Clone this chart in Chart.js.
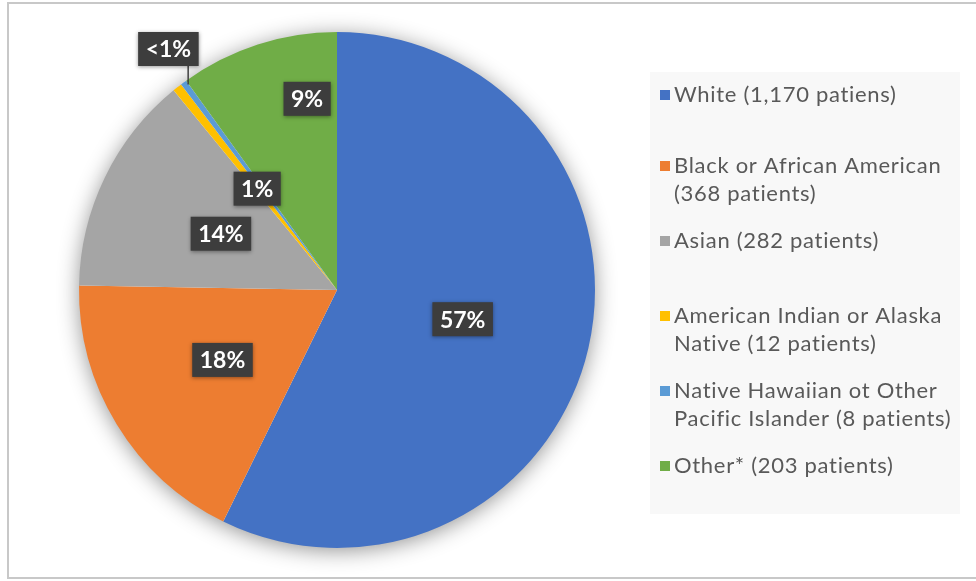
<!DOCTYPE html>
<html>
<head>
<meta charset="utf-8">
<title>Patients by race</title>
<script src="https://cdn.jsdelivr.net/npm/chart.js@4.4.0/dist/chart.umd.min.js"></script>
<style>
  html, body { margin: 0; padding: 0; background: #fff; }
  #wrap { position: relative; width: 976px; height: 581px; }
</style>
</head>
<body>
<div id="wrap"><canvas id="mychart"></canvas></div>
<script>
// legend text, one array per entry (each item is a line)
var categories = [
	['White (1,170 patiens)'],
	['Black or African American', '(368 patients)'],
	['Asian (282 patients)'],
	['American Indian or Alaska', 'Native (12 patients)'],
	['Native Hawaiian ot Other', 'Pacific Islander (8 patients)'],
	['Other* (203 patients)']
];
var patients = [1170, 368, 282, 12, 8, 203];
var percentLabels = ['57%', '18%', '14%', '1%', '<1%', '9%'];
var colors = ['#4472C4', '#ED7D31', '#A5A5A5', '#FFC000', '#5B9BD5', '#70AD47'];

// where each percent box sits: [fraction of radius, angle nudge in degrees]
var labelSpots = [[0.5, 0], [0.52, 0], [0.5, 0], [0.5, 0], [1.14, 1.5], [0.75, 9]];

// white card, thin frame and the grey legend panel
var frame = {
	id: 'frame',
	beforeDraw: function (chart) {
		var ctx = chart.ctx;
		ctx.save();
		ctx.fillStyle = '#fff';
		ctx.fillRect(0, 0, chart.width, chart.height);
		ctx.strokeStyle = '#c8c8c8';
		ctx.lineWidth = 2;
		// right edge runs off the canvas
		ctx.strokeRect(8, 3, 980, 575);
		ctx.fillStyle = '#f8f8f8';
		ctx.fillRect(650, 72, 310, 442);
		ctx.restore();
	}
};

// soft shadow under the whole pie (drawn once so slices don't shade each other)
var pieShadow = {
	id: 'pieShadow',
	beforeDatasetsDraw: function (chart) {
		var arc = chart.getDatasetMeta(0).data[0];
		if (!arc) return;
		var ctx = chart.ctx;
		ctx.save();
		ctx.shadowColor = 'rgba(0,0,0,0.45)';
		ctx.shadowBlur = 22;
		ctx.shadowOffsetY = 3;
		ctx.fillStyle = '#fff';
		ctx.beginPath();
		ctx.arc(arc.x, arc.y, arc.outerRadius - 1, 0, Math.PI * 2);
		ctx.fill();
		ctx.restore();
	}
};

// dark percent boxes on the slices
var sliceLabels = {
	id: 'sliceLabels',
	afterDatasetsDraw: function (chart) {
		var ctx = chart.ctx;
		var arcs = chart.getDatasetMeta(0).data;
		ctx.save();
		ctx.font = 'bold 23px Lato';
		ctx.textAlign = 'center';
		ctx.textBaseline = 'middle';
		arcs.forEach(function (arc, i) {
			var spot = labelSpots[i];
			var mid = (arc.startAngle + arc.endAngle) / 2;
			var a = mid + spot[1] * Math.PI / 180;
			var r = arc.outerRadius * spot[0];
			var x = arc.x + Math.cos(a) * r;
			var y = arc.y + Math.sin(a) * r;
			var text = percentLabels[i];
			var w = ctx.measureText(text).width + 15;
			var h = 34;

			if (spot[0] > 1) {
				// leader line from box to the slice edge
				var ex = arc.x + Math.cos(mid) * arc.outerRadius * 0.99;
				var ey = arc.y + Math.sin(mid) * arc.outerRadius * 0.99;
				ctx.strokeStyle = '#404040';
				ctx.lineWidth = 1.5;
				ctx.beginPath();
				ctx.moveTo(ex + 3, y + h / 2);
				ctx.lineTo(ex + 3, ey);
				ctx.stroke();
			}

			ctx.shadowColor = 'rgba(0,0,0,0.4)';
			ctx.shadowBlur = 4;
			ctx.shadowOffsetY = 1;
			ctx.fillStyle = '#3d3d3d';
			ctx.fillRect(x - w / 2, y - h / 2, w, h);
			ctx.shadowColor = 'transparent';
			ctx.fillStyle = '#fff';
			ctx.fillText(text, x, y + 1);
		});
		ctx.restore();
	}
};

// legend on the right, wrapped lines kept as given
var sideLegend = {
	id: 'sideLegend',
	afterDraw: function (chart) {
		var ctx = chart.ctx;
		var bg = chart.data.datasets[0].backgroundColor;
		ctx.save();
		ctx.font = '22px Lato';
		ctx.letterSpacing = '0.7px';
		ctx.textBaseline = 'middle';
		chart.data.labels.forEach(function (lines, i) {
			var y = (i === 0 ? 95 : 91) + i * 75;
			ctx.fillStyle = bg[i];
			ctx.fillRect(660, y - 5, 10, 10);
			ctx.fillStyle = '#595959';
			lines.forEach(function (line, j) {
				ctx.fillText(line, 674, y + j * 28);
			});
		});
		ctx.restore();
	}
};

var context = document.getElementById('mychart').getContext('2d');
var chart = new Chart(context, {
	type: 'pie',
	data: {
		labels: categories,
		datasets: [{
			data: patients,
			backgroundColor: colors,
			borderWidth: 0,
			hoverOffset: 0
		}]
	},
	options: {
		responsive: true,
		maintainAspectRatio: false,
		animation: false,
		layout: { padding: { left: 79, top: 32, right: 381, bottom: 33 } },
		plugins: {
			legend: { display: false },
			tooltip: { enabled: false }
		}
	},
	plugins: [frame, pieShadow, sliceLabels, sideLegend]
});
</script>
</body>
</html>
